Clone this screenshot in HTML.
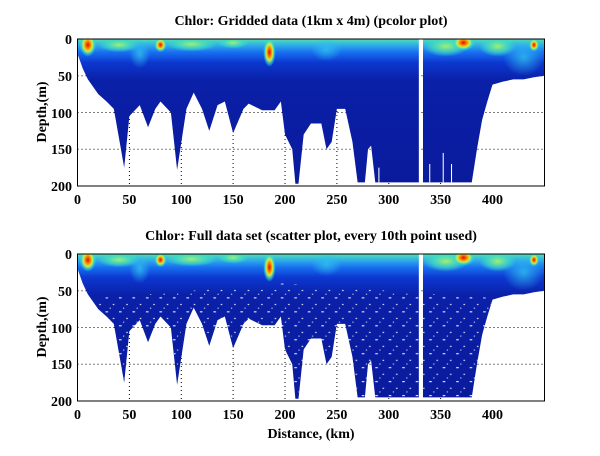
<!DOCTYPE html>
<html><head><style>
body{margin:0;background:#fff;width:600px;height:451px;overflow:hidden}
text{font-family:"Liberation Serif",serif;font-weight:bold;fill:#000}
</style></head><body>
<svg width="600" height="451" viewBox="0 0 600 451" xmlns="http://www.w3.org/2000/svg">
<defs>
<linearGradient id="vg" x1="0" y1="0" x2="0" y2="200" gradientUnits="userSpaceOnUse">
<stop offset="0" stop-color="#50e0b0"/>
<stop offset="0.04" stop-color="#30b0e8"/>
<stop offset="0.09" stop-color="#1870f0"/>
<stop offset="0.16" stop-color="#0c38d0"/>
<stop offset="0.28" stop-color="#0a20a8"/>
<stop offset="1" stop-color="#0a1a9c"/>
</linearGradient>
<radialGradient id="hot"><stop offset="0" stop-color="#d01000"/><stop offset="0.3" stop-color="#ff8000"/><stop offset="0.55" stop-color="#d0f040"/><stop offset="0.8" stop-color="#30e0d0" stop-opacity="0.6"/><stop offset="1" stop-color="#30e0d0" stop-opacity="0"/></radialGradient>
<radialGradient id="warm"><stop offset="0" stop-color="#a0f070"/><stop offset="0.6" stop-color="#40e0c0" stop-opacity="0.7"/><stop offset="1" stop-color="#40e0c0" stop-opacity="0"/></radialGradient>
<radialGradient id="cy"><stop offset="0" stop-color="#30c0f0" stop-opacity="0.8"/><stop offset="1" stop-color="#30c0f0" stop-opacity="0"/></radialGradient>
<pattern id="dots" width="13" height="19" patternUnits="userSpaceOnUse">
<rect x="1" y="2" width="2.5" height="1.4" fill="#fff"/><rect x="8" y="11" width="1.5" height="1.4" fill="#fff"/><rect x="5" y="16" width="1" height="1.4" fill="#fff"/>
</pattern>
<clipPath id="ax"><rect x="0" y="0" width="450" height="200"/></clipPath>
<g id="field">
<g clip-path="url(#ax)">
<polygon fill="url(#vg)" points="0,0 450,0 450,50 440,52 430,55 420,55 410,58 400,62 395,85 390,110 385,150 380,195 333,195 333,0 329,0 329,195 287,195 283,145 280,150 277,195 270,195 265,140 258,95 250,95 245,140 240,150 235,115 225,115 218,130 213,197 210,197 207,150 200,130 196,85 190,97 178,97 165,88 160,95 150,128 142,85 135,90 127,125 120,95 112,73 105,95 96,178 90,100 80,85 75,95 68,120 60,90 50,105 45,175 35,95 28,85 20,75 10,55 5,40 0,20"/>
<ellipse cx="40" cy="8" rx="20" ry="10" fill="url(#warm)"/>
<ellipse cx="110" cy="7" rx="25" ry="10" fill="url(#warm)"/>
<ellipse cx="150" cy="5" rx="15" ry="8" fill="url(#warm)"/>
<ellipse cx="355" cy="10" rx="22" ry="14" fill="url(#warm)"/>
<ellipse cx="405" cy="10" rx="18" ry="14" fill="url(#warm)"/>
<ellipse cx="430" cy="25" rx="20" ry="25" fill="url(#cy)"/>
<ellipse cx="240" cy="14" rx="15" ry="16" fill="url(#cy)"/>
<ellipse cx="60" cy="20" rx="10" ry="20" fill="url(#cy)"/>
<ellipse cx="10" cy="8" rx="8" ry="16" fill="url(#hot)"/>
<ellipse cx="80" cy="8" rx="6" ry="10" fill="url(#hot)"/>
<ellipse cx="185" cy="18" rx="6" ry="20" fill="url(#hot)"/>
<ellipse cx="372" cy="5" rx="11" ry="11" fill="url(#hot)"/>
<ellipse cx="440" cy="8" rx="5" ry="9" fill="url(#hot)"/>
</g>
</g>
</defs>

<rect x="77.5" y="39" width="467" height="147" fill="#fff"/>
<g stroke="#000" stroke-width="1" stroke-dasharray="1,3">
<path d="M129.4 39V186M181.3 39V186M233.1 39V186M285 39V186M336.9 39V186M388.8 39V186M440.6 39V186M77.5 75.8H544.5M77.5 112.5H544.5M77.5 149.3H544.5"/>
<path d="M129.4 254V401M181.3 254V401M233.1 254V401M285 254V401M336.9 254V401M388.8 254V401M440.6 254V401M77.5 290.8H544.5M77.5 327.5H544.5M77.5 364.3H544.5"/>
</g>
<g transform="translate(77.5,39) scale(1.0375,0.735)"><use href="#field"/>
<rect x="290" y="175" width="1" height="20" fill="#fff"/><rect x="339" y="170" width="1" height="25" fill="#fff"/><rect x="352" y="155" width="1" height="40" fill="#fff"/><rect x="360" y="170" width="1" height="25" fill="#fff"/></g>
<rect x="77.5" y="39" width="467" height="147" fill="none" stroke="#000"/>

<g transform="translate(77.5,254) scale(1.0375,0.735)"><use href="#field"/>
<g clip-path="url(#ax)"><polygon fill="url(#dots)" points="20,80 45,170 50,110 90,100 96,170 100,100 200,130 213,195 218,130 240,150 250,95 258,95 270,195 329,195 329,40 333,40 333,195 380,195 395,85 400,60 200,40 20,60"/></g>
</g>
<rect x="77.5" y="254" width="467" height="147" fill="none" stroke="#000"/>

<g font-size="14">
<text x="311" y="25" text-anchor="middle">Chlor: Gridded data (1km x 4m) (pcolor plot)</text>
<text x="311" y="240" text-anchor="middle">Chlor: Full data set (scatter plot, every 10th point used)</text>
<text x="311" y="438" text-anchor="middle">Distance, (km)</text>
<text transform="translate(46,112) rotate(-90)" text-anchor="middle">Depth,(m)</text>
<text transform="translate(46,327) rotate(-90)" text-anchor="middle">Depth,(m)</text>
<g text-anchor="end">
<text x="72" y="44">0</text><text x="72" y="81">50</text><text x="72" y="118">100</text><text x="72" y="154">150</text><text x="72" y="191">200</text>
<text x="72" y="259">0</text><text x="72" y="296">50</text><text x="72" y="333">100</text><text x="72" y="369">150</text><text x="72" y="406">200</text>
</g>
<g text-anchor="middle">
<text x="77.5" y="204">0</text><text x="129.4" y="204">50</text><text x="181.3" y="204">100</text><text x="233.1" y="204">150</text><text x="285" y="204">200</text><text x="336.9" y="204">250</text><text x="388.8" y="204">300</text><text x="440.6" y="204">350</text><text x="492.5" y="204">400</text>
<text x="77.5" y="419">0</text><text x="129.4" y="419">50</text><text x="181.3" y="419">100</text><text x="233.1" y="419">150</text><text x="285" y="419">200</text><text x="336.9" y="419">250</text><text x="388.8" y="419">300</text><text x="440.6" y="419">350</text><text x="492.5" y="419">400</text>
</g>
</g>
</svg>
</body></html>
